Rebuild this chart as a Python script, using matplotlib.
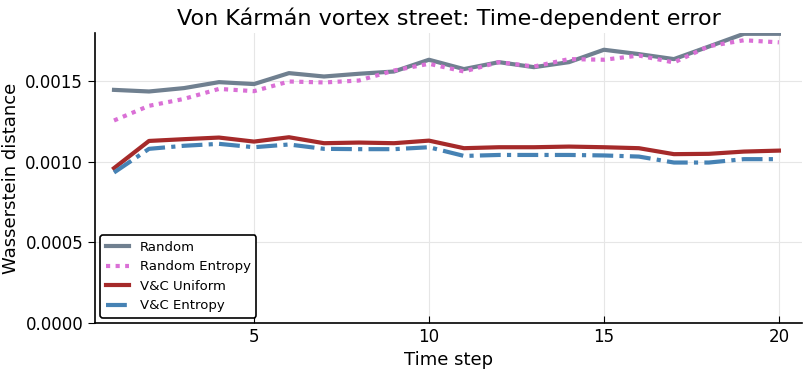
import numpy as np
import matplotlib
matplotlib.use('Agg')
import matplotlib.pyplot as plt

# time steps and Wasserstein distances per sampling strategy
steps = np.arange(1, 21)
random_w = [0.001447, 0.001437, 0.001458, 0.001495, 0.001483, 0.001551, 0.001530, 0.001547, 0.001561, 0.001634,
            0.001576, 0.001619, 0.001588, 0.001619, 0.001696, 0.001669, 0.001638, 0.001716, 0.001795, 0.001795]
random_entropy = [0.001257, 0.001348, 0.001391, 0.001453, 0.001439, 0.001499, 0.001493, 0.001505, 0.001567, 0.001609,
                  0.001561, 0.001619, 0.001592, 0.001638, 0.001634, 0.001660, 0.001617, 0.001718, 0.001755, 0.001742]
vc_uniform = [0.000961, 0.001130, 0.001141, 0.001151, 0.001126, 0.001153, 0.001116, 0.001120, 0.001116, 0.001132,
              0.001085, 0.001091, 0.001091, 0.001095, 0.001091, 0.001085, 0.001048, 0.001050, 0.001064, 0.001070]
vc_entropy = [0.000934, 0.001081, 0.001100, 0.001112, 0.001091, 0.001108, 0.001081, 0.001079, 0.001079, 0.001091,
              0.001037, 0.001043, 0.001043, 0.001043, 0.001040, 0.001033, 0.000996, 0.000996, 0.001017, 0.001017]

fig = plt.figure(figsize=(8.06, 3.76), dpi=100)
ax = fig.add_axes([95/806, 53/376, 707/806, 290/376])

ax.plot(steps, random_w, color='#708090', lw=3, label='Random')
ax.plot(steps, random_entropy, color='#DA70D6', lw=3, ls=(0, (1, 1.3)), label='Random Entropy')
ax.plot(steps, vc_uniform, color='#A52A2A', lw=3, label='V&C Uniform')
ax.plot(steps, vc_entropy, color='#4682B4', lw=3, ls=(0, (5, 1.5, 1, 1.5)), label='V&C Entropy')

ax.set_xlim(0.457, 20.66)
ax.set_ylim(0, 0.0018)
ax.set_xticks([5, 10, 15, 20])
ax.set_yticks([0, 0.0005, 0.0010, 0.0015])
ax.set_yticklabels(['0.0000', '0.0005', '0.0010', '0.0015'])
ax.grid(True, color='#e6e6e6', lw=0.8)
ax.set_axisbelow(True)
for s in ['top', 'right']:
    ax.spines[s].set_visible(False)
ax.spines['left'].set_linewidth(1.2)
ax.spines['bottom'].set_linewidth(1.2)
ax.tick_params(axis='x', direction='in', length=5, labelsize=12)
ax.tick_params(axis='y', direction='out', length=5, labelsize=12)

ax.set_xlabel('Time step', fontsize=13)
ax.set_ylabel('Wasserstein distance', fontsize=13)
ax.set_title('Von Kármán vortex street: Time-dependent error', fontsize=16)

leg = ax.legend(loc='lower left', fontsize=9.5, framealpha=1, edgecolor='black',
                borderaxespad=0.4, handlelength=1.8, handletextpad=0.8)
leg.get_frame().set_linewidth(1.2)

fig.savefig('out.png', dpi=100)
